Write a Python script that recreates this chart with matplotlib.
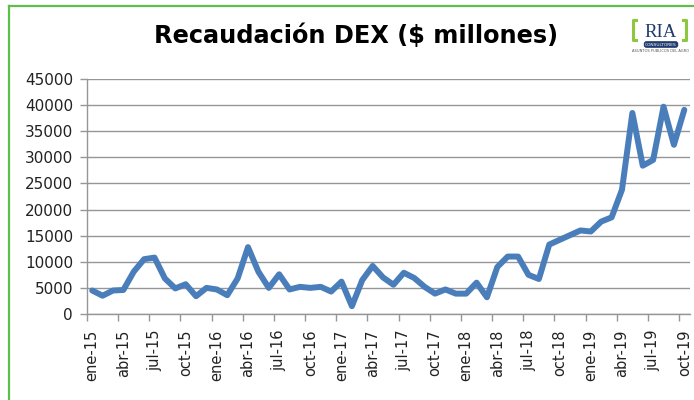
import numpy as np
import matplotlib
matplotlib.use('Agg')
import matplotlib.pyplot as plt
from matplotlib.lines import Line2D

# monthly collection, $ millions, ene-15 .. oct-19
values = [4500, 3500, 4500, 4600, 8100, 10500, 10800, 6800, 4900, 5700, 3400, 5000,
          4700, 3600, 6800, 12800, 8100, 5000, 7600, 4700, 5200, 5000, 5200, 4300,
          6200, 1500, 6500, 9200, 7000, 5600, 7900, 6900, 5200, 3900, 4700, 3900,
          3900, 6000, 3200, 9000, 11000, 11000, 7500, 6700, 13300, 14200, 15100, 16000,
          15800, 17700, 18500, 23800, 38500, 28400, 29500, 39700, 32400, 39100]
month_names = ['ene', 'feb', 'mar', 'abr', 'may', 'jun', 'jul', 'ago', 'sep', 'oct', 'nov', 'dic']
years = [15, 16, 17, 18, 19]
months = [f"{m}-{y}" for y in years for m in month_names][:len(values)]
y_ticks = list(range(0, 45001, 5000))

W, H = 694, 400
fig = plt.figure(figsize=(W / 100, H / 100), dpi=100)
fig.patch.set_facecolor('white')
ax = fig.add_axes([87 / W, 1 - 314 / H, (689.5 - 87) / W, (314 - 79) / H])

x = np.arange(len(values))
ax.plot(x, values, color='#4A7EBB', lw=4.3, solid_joinstyle='round', solid_capstyle='round', zorder=3)

ax.set_xlim(-0.5, len(values) - 0.5)
ax.set_ylim(0, 45000)
ax.set_yticks(y_ticks)
ax.set_yticklabels([str(v) for v in y_ticks])
ax.grid(axis='y', color='#969696', lw=1.0)
ax.set_axisbelow(True)

# labels at every 3rd month centre, tick marks at category boundaries
ax.set_xticks(x[::3])
ax.set_xticklabels(months[::3], rotation=90)
ax.set_xticks(np.arange(-0.5, len(values) - 0.5, 3), minor=True)
ax.tick_params(axis='x', which='major', length=0, pad=11, labelsize=10.5, colors='#222222')
ax.tick_params(axis='x', which='minor', length=5, width=1, color='#969696', direction='out')
ax.tick_params(axis='y', length=5, width=1, color='#969696', pad=5, labelsize=11, labelcolor='#222222')

for s in ['top', 'right']:
    ax.spines[s].set_visible(False)
for s in ['left', 'bottom']:
    ax.spines[s].set_color('#969696')
    ax.spines[s].set_linewidth(1.0)

fig.text(356 / W, 1 - 43 / H, r"Recaudación DEX (\$ millones)", ha='center', va='baseline',
         fontsize=17.3, fontweight='bold', color='black')

# green frame (left and top edges visible)
green = '#5CBF4A'
fig.add_artist(Line2D([9 / W, 9 / W], [0, 1 - 6 / H], transform=fig.transFigure, color=green, lw=1.6))
fig.add_artist(Line2D([9 / W, 1], [1 - 6 / H, 1 - 6 / H], transform=fig.transFigure, color=green, lw=1.6))

# RIA logo
lg = '#8DC63F'
for bx, d in [(633, 1), (686, -1)]:
    fig.add_artist(Line2D([(bx + 3 * d) / W, bx / W, bx / W, (bx + 3 * d) / W],
                          [1 - 20 / H, 1 - 20 / H, 1 - 40 / H, 1 - 40 / H],
                          transform=fig.transFigure, color=lg, lw=2.2))
fig.text(661 / W, 1 - 37 / H, "RIA", ha='center', va='baseline', fontsize=13.5,
         family='Liberation Serif', color='#1F3A6E')
fig.text(661 / W, 1 - 44.5 / H, "CONSULTORES", ha='center', va='center', fontsize=3.2,
         color='white', bbox=dict(boxstyle='round,pad=0.3,rounding_size=0.6', fc='#1F3A6E', ec='none'))
fig.text(660 / W, 1 - 51.5 / H, "ASUNTOS PUBLICOS DEL AGRO", ha='center', va='center', fontsize=2.6,
         color='#555555')

fig.savefig('out.png', dpi=100)
